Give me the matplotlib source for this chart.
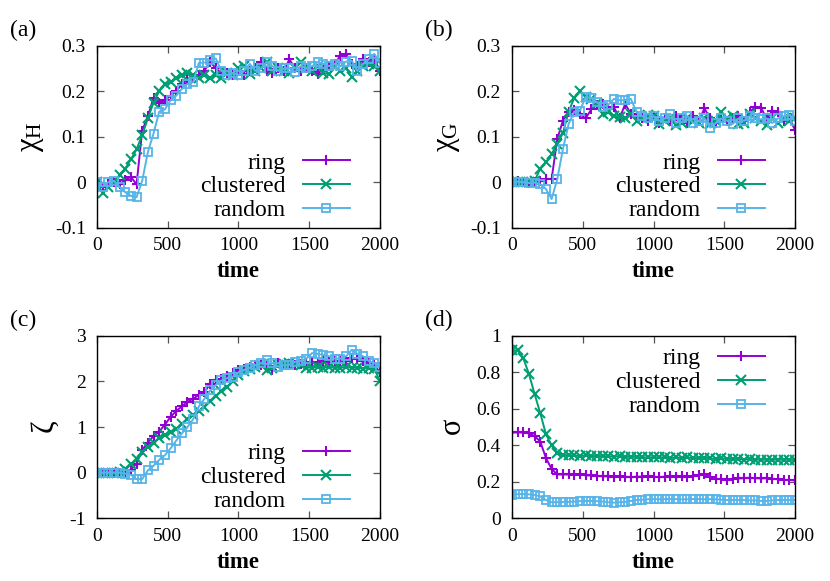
import numpy as np
import matplotlib
matplotlib.use("Agg")
import matplotlib.pyplot as plt

plt.rcParams['font.family'] = ['Liberation Serif', 'DejaVu Serif']
plt.rcParams['mathtext.fontset'] = 'custom'
plt.rcParams['mathtext.rm'] = 'Liberation Serif'
plt.rcParams['mathtext.it'] = 'Liberation Serif:italic'
plt.rcParams['axes.unicode_minus'] = False

time = list(range(0, 2001, 40))

ring_a = [0.0, -0.01, -0.005, 0.0, -0.005, 0.005, 0.012, -0.005, 0.113, 0.145,
          0.185, 0.175, 0.18, 0.19, 0.2, 0.215, 0.225, 0.23, 0.235, 0.245,
          0.265, 0.25, 0.24, 0.24, 0.235, 0.245, 0.235, 0.245, 0.25, 0.265,
          0.245, 0.24, 0.25, 0.245, 0.27, 0.25, 0.245, 0.25, 0.245, 0.238,
          0.25, 0.255, 0.26, 0.278, 0.282, 0.26, 0.255, 0.27, 0.265, 0.27,
          0.245]
clus_a = [0.0, -0.024, -0.01, 0.0, 0.015, 0.03, 0.05, 0.072, 0.104, 0.14,
          0.175, 0.2, 0.215, 0.22, 0.23, 0.235, 0.24, 0.235, 0.23, 0.235,
          0.23, 0.235, 0.23, 0.24, 0.235, 0.25, 0.255, 0.238, 0.245, 0.25,
          0.265, 0.245, 0.25, 0.245, 0.24, 0.25, 0.265, 0.25, 0.245, 0.255,
          0.24, 0.238, 0.255, 0.245, 0.25, 0.232, 0.245, 0.255, 0.26, 0.255,
          0.245]
rand_a = [0.0, -0.01, 0.0, 0.003, -0.01, -0.022, -0.03, -0.033, 0.003, 0.066,
          0.107, 0.155, 0.16, 0.18, 0.19, 0.205, 0.216, 0.22, 0.262, 0.263,
          0.268, 0.272, 0.245, 0.235, 0.24, 0.235, 0.245, 0.26, 0.245, 0.25,
          0.265, 0.255, 0.245, 0.25, 0.25, 0.242, 0.255, 0.25, 0.255, 0.264,
          0.26, 0.255, 0.26, 0.255, 0.265, 0.267, 0.245, 0.26, 0.27, 0.282,
          0.262]

ring_b = [0.0, 0.002, 0.0, -0.002, 0.0, 0.002, 0.007, 0.007, 0.095, 0.135,
          0.155, 0.158, 0.15, 0.14, 0.16, 0.17, 0.172, 0.16, 0.165, 0.14,
          0.172, 0.15, 0.145, 0.14, 0.135, 0.145, 0.13, 0.14, 0.135, 0.145,
          0.14, 0.13, 0.145, 0.135, 0.162, 0.14, 0.13, 0.14, 0.135, 0.14,
          0.145, 0.135, 0.155, 0.165, 0.163, 0.14, 0.157, 0.155, 0.135, 0.14,
          0.115]
clus_b = [0.0, 0.0, 0.0, 0.0, 0.003, 0.03, 0.044, 0.062, 0.084, 0.108,
          0.155, 0.185, 0.2, 0.187, 0.183, 0.175, 0.15, 0.155, 0.146, 0.143,
          0.14, 0.15, 0.135, 0.14, 0.148, 0.145, 0.128, 0.135, 0.14, 0.125,
          0.13, 0.14, 0.135, 0.13, 0.14, 0.128, 0.135, 0.155, 0.14, 0.145,
          0.128, 0.13, 0.15, 0.14, 0.135, 0.125, 0.14, 0.13, 0.14, 0.135,
          0.14]
rand_b = [0.0, 0.001, 0.0, -0.002, -0.001, -0.005, -0.015, -0.037, 0.007, 0.073,
          0.128, 0.155, 0.157, 0.187, 0.185, 0.176, 0.165, 0.17, 0.183, 0.18,
          0.18, 0.183, 0.154, 0.145, 0.14, 0.145, 0.135, 0.14, 0.15, 0.13,
          0.14, 0.145, 0.13, 0.135, 0.14, 0.12, 0.13, 0.14, 0.135, 0.128,
          0.14, 0.135, 0.145, 0.14, 0.138, 0.14, 0.13, 0.14, 0.145, 0.148,
          0.135]

ring_c = [0.0, 0.0, 0.0, 0.0, 0.0, 0.01, 0.06, 0.2, 0.5, 0.66,
          0.8, 0.9, 1.05, 1.22, 1.35, 1.45, 1.55, 1.62, 1.7, 1.76,
          1.95, 2.02, 2.06, 2.12, 2.18, 2.25, 2.28, 2.32, 2.35, 2.36,
          2.38, 2.25, 2.4, 2.35, 2.38, 2.36, 2.38, 2.4, 2.42, 2.4,
          2.45, 2.42, 2.45, 2.44, 2.45, 2.52, 2.48, 2.45, 2.4, 2.35,
          2.2]
clus_c = [0.0, 0.0, 0.0, 0.0, 0.02, 0.08, 0.18, 0.3, 0.46, 0.57,
          0.66, 0.76, 0.83, 0.88, 0.95, 1.07, 1.17, 1.27, 1.34, 1.44,
          1.56, 1.68, 1.78, 1.87, 2.0, 2.15, 2.22, 2.28, 2.32, 2.35,
          2.25, 2.3, 2.35, 2.38, 2.4, 2.38, 2.35, 2.3, 2.3, 2.32,
          2.3, 2.32, 2.3, 2.3, 2.32, 2.3, 2.3, 2.28, 2.3, 2.28,
          2.0]
rand_c = [0.0, 0.0, 0.0, 0.0, 0.0, -0.02, -0.05, -0.14, -0.14, 0.05,
          0.15, 0.28, 0.38, 0.53, 0.7, 0.86, 1.0, 1.17, 1.45, 1.62,
          1.8, 1.92, 2.02, 2.07, 2.1, 2.2, 2.25, 2.3, 2.36, 2.4,
          2.47, 2.4, 2.32, 2.35, 2.36, 2.43, 2.45, 2.5, 2.62, 2.6,
          2.58, 2.55, 2.5, 2.5, 2.55, 2.69, 2.6, 2.55, 2.45, 2.4,
          2.32]

ring_d = [0.47, 0.47, 0.47, 0.465, 0.45, 0.42, 0.33, 0.27, 0.24, 0.24,
          0.24, 0.238, 0.24, 0.235, 0.235, 0.232, 0.23, 0.23, 0.228, 0.23,
          0.228, 0.225, 0.228, 0.228, 0.23, 0.228, 0.225, 0.228, 0.23, 0.228,
          0.23, 0.228, 0.23, 0.235, 0.24, 0.228, 0.215, 0.215, 0.212, 0.215,
          0.218, 0.22, 0.222, 0.22, 0.218, 0.22, 0.215, 0.215, 0.21, 0.21,
          0.208]
clus_d = [0.92, 0.92, 0.876, 0.79, 0.68, 0.575, 0.46, 0.4, 0.356, 0.347,
          0.345, 0.345, 0.34, 0.345, 0.34, 0.342, 0.34, 0.34, 0.338, 0.34,
          0.335, 0.338, 0.335, 0.335, 0.333, 0.335, 0.333, 0.335, 0.33, 0.333,
          0.33, 0.333, 0.33, 0.33, 0.332, 0.328, 0.325, 0.328, 0.325, 0.325,
          0.325, 0.322, 0.325, 0.322, 0.32, 0.322, 0.32, 0.322, 0.32, 0.322,
          0.318]
rand_d = [0.13, 0.132, 0.133, 0.131, 0.128, 0.12, 0.1, 0.088, 0.088, 0.09,
          0.09, 0.092, 0.094, 0.095, 0.095, 0.094, 0.092, 0.088, 0.086, 0.088,
          0.09, 0.095, 0.1, 0.102, 0.104, 0.105, 0.104, 0.105, 0.106, 0.105,
          0.104, 0.104, 0.106, 0.105, 0.104, 0.105, 0.104, 0.102, 0.1, 0.1,
          0.1, 0.1, 0.098, 0.098, 0.095, 0.095, 0.098, 0.1, 0.1, 0.1,
          0.1]

series_names = ["ring", "clustered", "random"]
colors = ["#9400d3", "#009e73", "#56b4e9"]
markers = ["+", "x", "s"]

xticks = [0, 500, 1000, 1500, 2000]
yticks_a = [-0.1, 0, 0.1, 0.2, 0.3]
yticklabels_a = ["-0.1", "0", "0.1", "0.2", "0.3"]
yticks_c = [-1, 0, 1, 2, 3]
yticklabels_c = ["-1", "0", "1", "2", "3"]
yticks_d = [0, 0.2, 0.4, 0.6, 0.8, 1]
yticklabels_d = ["0", "0.2", "0.4", "0.6", "0.8", "1"]

panels = [
    dict(label="(a)", data=[ring_a, clus_a, rand_a], ylabel=r"$\mathrm{\chi_H}$",
         ylim=(-0.1, 0.3), yt=yticks_a, ytl=yticklabels_a, loc="lower right"),
    dict(label="(b)", data=[ring_b, clus_b, rand_b], ylabel=r"$\mathrm{\chi_G}$",
         ylim=(-0.1, 0.3), yt=yticks_a, ytl=yticklabels_a, loc="lower right"),
    dict(label="(c)", data=[ring_c, clus_c, rand_c], ylabel=r"$\mathrm{\zeta}$",
         ylim=(-1, 3), yt=yticks_c, ytl=yticklabels_c, loc="lower right"),
    dict(label="(d)", data=[ring_d, clus_d, rand_d], ylabel=r"$\mathrm{\sigma}$",
         ylim=(0, 1), yt=yticks_d, ytl=yticklabels_d, loc="upper right"),
]

W, H = 830, 581
fig = plt.figure(figsize=(W / 100, H / 100), dpi=100)

boxes = [(96.9, 45.7, 380, 227.7), (512, 45.7, 795, 227.7),
         (96.9, 335.7, 380, 518.3), (512, 335.7, 795, 518.3)]
label_pos = [(10, 30), (425, 30), (10, 320), (425, 320)]

for p, (l, t, r, b), (lx, ly) in zip(panels, boxes, label_pos):
    ax = fig.add_axes([l / W, 1 - b / H, (r - l) / W, (b - t) / H])
    for vals, name, c, m in zip(p["data"], series_names, colors, markers):
        if m == "s":
            ax.plot(time, vals, color=c, marker=m, markersize=6, markerfacecolor="none",
                    markeredgewidth=1.3, lw=1.4, label=name)
        else:
            ax.plot(time, vals, color=c, marker=m, markersize=7,
                    markeredgewidth=1.5, lw=1.4, label=name)
    ax.set_xlim(0, 2000)
    ax.set_ylim(*p["ylim"])
    ax.set_xticks(xticks)
    ax.set_xticklabels([str(v) for v in xticks])
    ax.set_yticks(p["yt"])
    ax.set_yticklabels(p["ytl"])
    ax.tick_params(direction="in", length=5, width=0.9, top=True, right=True,
                   labelsize=14, color="#555555")
    ax.tick_params(axis="y", pad=8)
    ax.tick_params(axis="x", pad=7)
    for s in ax.spines.values():
        s.set_linewidth(1.0)
    ax.set_xlabel("time", fontsize=16.5, fontweight="bold", labelpad=5)
    ax.set_ylabel(p["ylabel"], fontsize=22, labelpad=6)
    if p["loc"] == "lower right":
        anchor = (0.935, -0.03)
    else:
        anchor = (0.935, 1.0)
    ax.legend(loc=p["loc"], bbox_to_anchor=anchor, frameon=False, markerfirst=False,
              fontsize=17, borderpad=0, labelspacing=0.1, handlelength=2.0,
              handletextpad=0.7)
    fig.text(lx / W, 1 - ly / H, p["label"], fontsize=17, va="center", ha="left")

fig.savefig("out.png", dpi=100)
